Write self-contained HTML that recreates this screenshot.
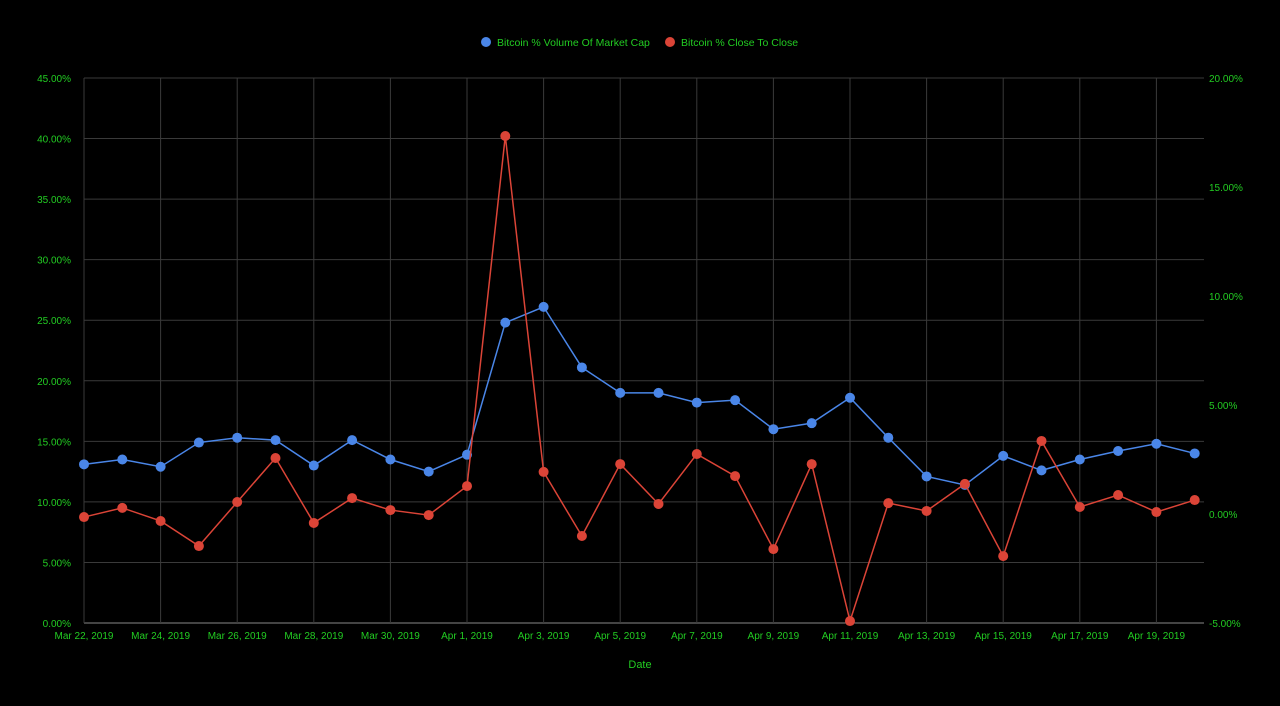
<!DOCTYPE html>
<html><head><meta charset="utf-8"><style>
html,body{margin:0;padding:0;background:#000;}
svg{display:block;font-family:"Liberation Sans",Arial,sans-serif;}
</style></head><body>
<svg id="chart" width="1280" height="706">
<g id="grid"></g>
<g id="axes"></g>
<g id="series"></g>
<g>
<g><circle cx="486" cy="42" r="5" fill="#4a86e8"/><text x="497" y="46" fill="#22cc22" font-size="10.5">Bitcoin % Volume Of Market Cap</text></g>
<g><circle cx="670" cy="42" r="5" fill="#db4437"/><text x="681" y="46" fill="#22cc22" font-size="10.5">Bitcoin % Close To Close</text></g>
</g>
<text x="640" y="668" text-anchor="middle" fill="#22cc22" font-size="11">Date</text>
</svg>
<script>
const dates=["Mar 22","Mar 23","Mar 24","Mar 25","Mar 26","Mar 27","Mar 28","Mar 29","Mar 30","Mar 31","Apr 1","Apr 2","Apr 3","Apr 4","Apr 5","Apr 6","Apr 7","Apr 8","Apr 9","Apr 10","Apr 11","Apr 12","Apr 13","Apr 14","Apr 15","Apr 16","Apr 17","Apr 18","Apr 19","Apr 20"];
const volumePct=[13.1,13.5,12.9,14.9,15.3,15.1,13.0,15.1,13.5,12.5,13.9,24.8,26.1,21.1,19.0,19.0,18.2,18.4,16.0,16.5,18.6,15.3,12.1,11.4,13.8,12.6,13.5,14.2,14.8,14.0];
const closePct=[-0.14,0.28,-0.32,-1.47,0.55,2.57,-0.41,0.73,0.18,-0.05,1.28,17.34,1.93,-1.01,2.29,0.46,2.75,1.74,-1.61,2.29,-4.91,0.50,0.14,1.38,-1.93,3.35,0.32,0.87,0.09,0.64];
const leftTicks=[0,5,10,15,20,25,30,35,40,45];
const rightTicks=[-5,0,5,10,15,20];
const xTickLabels=["Mar 22, 2019","Mar 24, 2019","Mar 26, 2019","Mar 28, 2019","Mar 30, 2019","Apr 1, 2019","Apr 3, 2019","Apr 5, 2019","Apr 7, 2019","Apr 9, 2019","Apr 11, 2019","Apr 13, 2019","Apr 15, 2019","Apr 17, 2019","Apr 19, 2019"];

const L=84,R=1204,T=78,B=623,step=38.3;
const ns="http://www.w3.org/2000/svg";
const x=i=>L+i*step;
const yL=v=>B-(v-0)/45*(B-T);
const yR=v=>B-(v+5)/25*(B-T);
function mk(tag,attrs,parent){const e=document.createElementNS(ns,tag);for(const k in attrs)e.setAttribute(k,attrs[k]);parent.appendChild(e);return e;}
const grid=document.getElementById('grid'),axes=document.getElementById('axes'),series=document.getElementById('series');
leftTicks.forEach(v=>{
  const y=yL(v);
  const ln=mk('line',{x1:L,x2:R,y1:y,y2:y,stroke:v===0?'#888':'#3a3a3a','stroke-width':1},grid);
  
  
  const t=mk('text',{x:L-13,y:y+4,'text-anchor':'end',fill:'#22cc22','font-size':10},axes);
  t.textContent=v.toFixed(2)+'%';
  
  
});
rightTicks.forEach(v=>{
  const y=yR(v);
  const t=mk('text',{x:R+5,y:y+4,fill:'#22cc22','font-size':10},axes);
  t.textContent=v.toFixed(2)+'%';
  
  
});
xTickLabels.forEach((s,k)=>{
  const xx=x(k*2);
  const ln=mk('line',{x1:xx,x2:xx,y1:T,y2:B,stroke:'#3a3a3a','stroke-width':1},grid);
  
  
  const t=mk('text',{x:xx,y:B+16,'text-anchor':'middle',fill:'#22cc22','font-size':10},axes);
  t.textContent=s;
  
  
});
function drawSeries(vals,yf,color,name){
  const p=mk('polyline',{points:vals.map((v,i)=>x(i)+','+yf(v)).join(' '),fill:'none',stroke:color,'stroke-width':1.5},series);
  
  
  vals.forEach((v,i)=>{
    const c=mk('circle',{cx:x(i),cy:yf(v),r:5,fill:color},series);
    
    
  });
}
drawSeries(volumePct,yL,'#4a86e8','volume');
drawSeries(closePct,yR,'#db4437','close');
</script>
</body></html>
